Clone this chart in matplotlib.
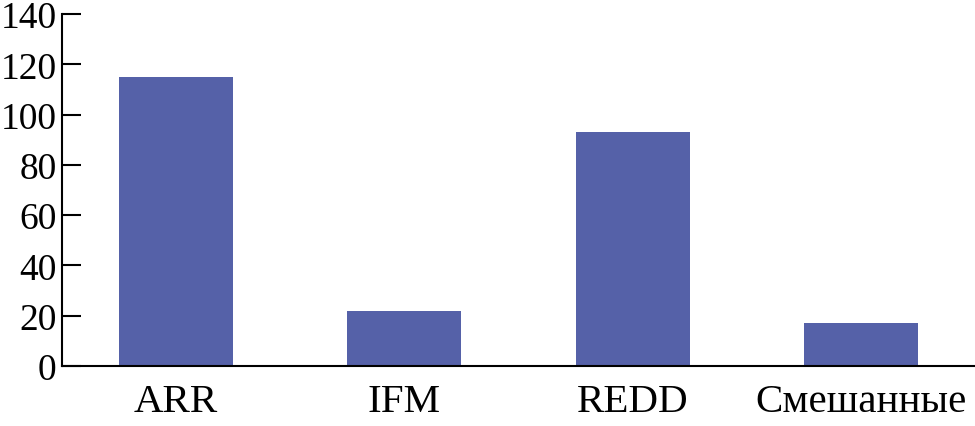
import numpy as np
import matplotlib.pyplot as plt

categories = ["ARR", "IFM", "REDD", "Смешанные"]
values = [115, 22, 93, 17]

plt.rcParams['font.family'] = ['Liberation Serif', 'DejaVu Serif']

fig = plt.figure(figsize=(9.75, 4.27), dpi=100)
ax = fig.add_axes([0.0636, 0.1405, 0.9364, 0.8244])

x = np.arange(len(categories))
ax.bar(x, values, width=0.5, color="#5561a8")

ax.set_xlim(-0.5, 3.5)
ax.set_ylim(0, 140)
ax.set_yticks(np.arange(0, 141, 20))
ax.set_xticks(x)
ax.set_xticklabels(categories)

ax.spines['top'].set_visible(False)
ax.spines['right'].set_visible(False)
ax.spines['left'].set_linewidth(1.5)
ax.spines['bottom'].set_linewidth(1.5)
ax.tick_params(axis='y', direction='in', length=14, width=1.5, labelsize=27, pad=4)
ax.tick_params(axis='x', length=0, labelsize=29.5, pad=12)

plt.savefig("out.png", dpi=100)
